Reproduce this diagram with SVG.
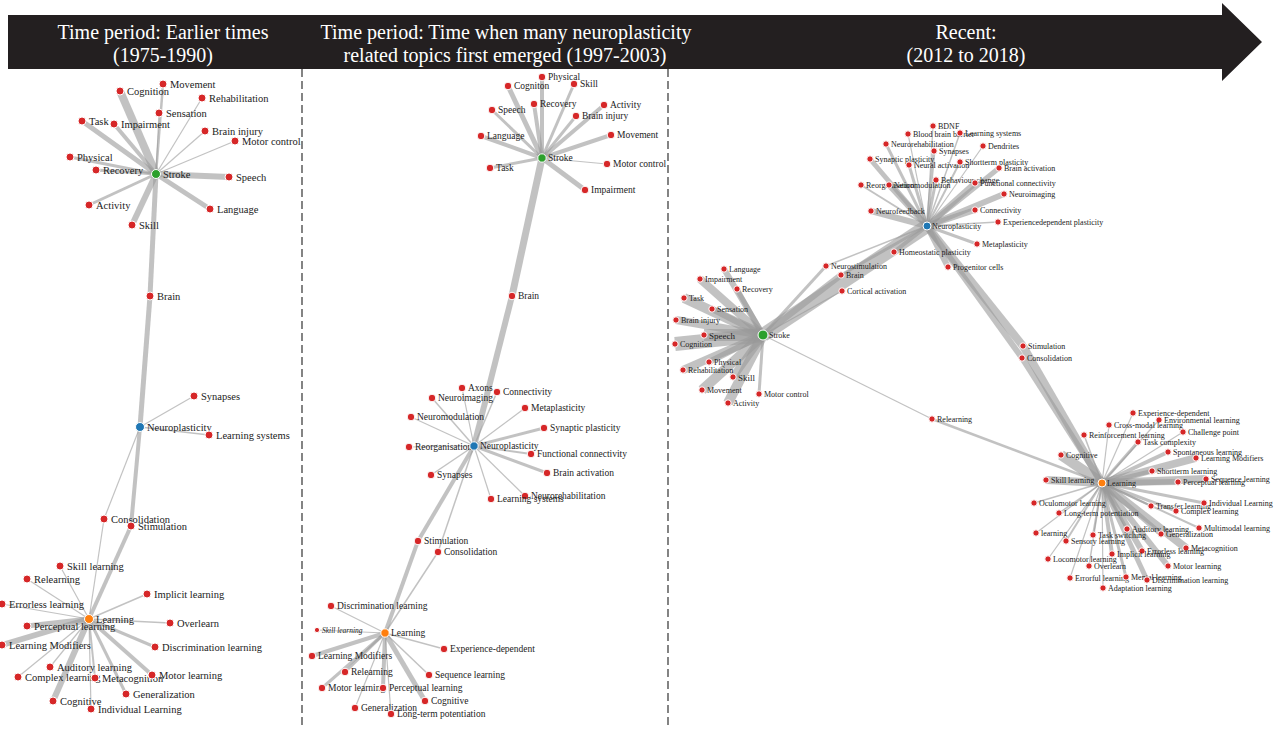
<svg xmlns="http://www.w3.org/2000/svg" width="1276" height="729" viewBox="0 0 1276 729">
<style>
.e line{stroke:#999;stroke-opacity:.6;fill:none}
circle{stroke:#fff;stroke-width:1}
.r{fill:#d62728}.gr{fill:#2ca02c}.b{fill:#1f77b4}.o{fill:#ff7f0e}
text{font-family:"Liberation Serif","Times New Roman",serif;fill:#222}
.p1 text{font-size:10.5px}.p2 text{font-size:9.5px}.p3 text{font-size:8px}
.hdr{font-size:20px;fill:#fff;text-anchor:middle}
.sep{stroke:#333;stroke-width:1.2;stroke-dasharray:8 4}
</style>
<rect width="1276" height="729" fill="#fff"/>
<g id="header">
<path d="M8 15 H1222 V3 L1262 42 L1222 81 V69 H8 Z" fill="#231f20"/>
<text class="hdr" x="163" y="39">Time period: Earlier times</text>
<text class="hdr" x="163" y="62">(1975-1990)</text>
<text class="hdr" x="506" y="39">Time period: Time when many neuroplasticity</text>
<text class="hdr" x="505" y="62">related topics first emerged (1997-2003)</text>
<text class="hdr" x="966" y="39">Recent:</text>
<text class="hdr" x="966" y="62">(2012 to 2018)</text>
</g>
<g id="separators">
<line class="sep" x1="302" y1="69" x2="302" y2="729"/>
<line class="sep" x1="668" y1="69" x2="668" y2="729"/>
</g>
<g id="connectors" class="e">
<!-- panel 1 -->
<line x1="156" y1="174" x2="163" y2="84" stroke-width="2.5"/>
<line x1="156" y1="174" x2="120" y2="91" stroke-width="8"/>
<line x1="156" y1="174" x2="202" y2="98" stroke-width="1.2"/>
<line x1="156" y1="174" x2="159" y2="113" stroke-width="1.2"/>
<line x1="156" y1="174" x2="82" y2="121" stroke-width="5"/>
<line x1="156" y1="174" x2="114" y2="124" stroke-width="4"/>
<line x1="156" y1="174" x2="205" y2="131" stroke-width="1.2"/>
<line x1="156" y1="174" x2="235" y2="141" stroke-width="1.2"/>
<line x1="156" y1="174" x2="70" y2="157" stroke-width="3"/>
<line x1="156" y1="174" x2="96" y2="170" stroke-width="3"/>
<line x1="156" y1="174" x2="229" y2="177" stroke-width="6"/>
<line x1="156" y1="174" x2="89" y2="205" stroke-width="3"/>
<line x1="156" y1="174" x2="210" y2="209" stroke-width="5"/>
<line x1="156" y1="174" x2="132" y2="225" stroke-width="6"/>
<line x1="156" y1="174" x2="150" y2="296" stroke-width="5"/>
<line x1="150" y1="296" x2="140" y2="427" stroke-width="5"/>
<line x1="140" y1="427" x2="194" y2="396" stroke-width="1.2"/>
<line x1="140" y1="427" x2="209" y2="435" stroke-width="1.5"/>
<line x1="140" y1="427" x2="104" y2="519" stroke-width="1.2"/>
<line x1="140" y1="427" x2="131" y2="526" stroke-width="4"/>
<line x1="104" y1="519" x2="89" y2="619" stroke-width="1.2"/>
<line x1="131" y1="526" x2="89" y2="619" stroke-width="4"/>
<line x1="89" y1="619" x2="60" y2="566" stroke-width="1.2"/>
<line x1="89" y1="619" x2="27" y2="579" stroke-width="1.2"/>
<line x1="89" y1="619" x2="147" y2="594" stroke-width="1.5"/>
<line x1="89" y1="619" x2="2" y2="604" stroke-width="1.2"/>
<line x1="89" y1="619" x2="170" y2="623" stroke-width="1.5"/>
<line x1="89" y1="619" x2="27" y2="626" stroke-width="5"/>
<line x1="89" y1="619" x2="2" y2="645" stroke-width="6"/>
<line x1="89" y1="619" x2="155" y2="647" stroke-width="3"/>
<line x1="89" y1="619" x2="50" y2="667" stroke-width="1.2"/>
<line x1="89" y1="619" x2="18" y2="677" stroke-width="1.2"/>
<line x1="89" y1="619" x2="95" y2="678" stroke-width="2"/>
<line x1="89" y1="619" x2="152" y2="675" stroke-width="4"/>
<line x1="89" y1="619" x2="126" y2="694" stroke-width="3"/>
<line x1="89" y1="619" x2="53" y2="701" stroke-width="6"/>
<line x1="89" y1="619" x2="91" y2="709" stroke-width="1.2"/>
<!-- panel 2 -->
<line x1="542" y1="158" x2="542" y2="77" stroke-width="4"/>
<line x1="542" y1="158" x2="508" y2="86" stroke-width="5"/>
<line x1="542" y1="158" x2="574" y2="84" stroke-width="3"/>
<line x1="542" y1="158" x2="534" y2="104" stroke-width="4"/>
<line x1="542" y1="158" x2="492" y2="110" stroke-width="3"/>
<line x1="542" y1="158" x2="604" y2="105" stroke-width="4"/>
<line x1="542" y1="158" x2="576" y2="116" stroke-width="3"/>
<line x1="542" y1="158" x2="481" y2="136" stroke-width="4"/>
<line x1="542" y1="158" x2="611" y2="135" stroke-width="4"/>
<line x1="542" y1="158" x2="490" y2="168" stroke-width="3"/>
<line x1="542" y1="158" x2="607" y2="164" stroke-width="1.2"/>
<line x1="542" y1="158" x2="585" y2="190" stroke-width="5"/>
<line x1="542" y1="158" x2="512" y2="296" stroke-width="7"/>
<line x1="512" y1="296" x2="474" y2="446" stroke-width="6"/>
<line x1="474" y1="446" x2="462" y2="388" stroke-width="1.2"/>
<line x1="474" y1="446" x2="497" y2="392" stroke-width="1.5"/>
<line x1="474" y1="446" x2="432" y2="398" stroke-width="1.5"/>
<line x1="474" y1="446" x2="525" y2="408" stroke-width="1.2"/>
<line x1="474" y1="446" x2="411" y2="417" stroke-width="1.2"/>
<line x1="474" y1="446" x2="544" y2="428" stroke-width="3"/>
<line x1="474" y1="446" x2="409" y2="447" stroke-width="1.2"/>
<line x1="474" y1="446" x2="531" y2="454" stroke-width="2"/>
<line x1="474" y1="446" x2="547" y2="473" stroke-width="3"/>
<line x1="474" y1="446" x2="431" y2="475" stroke-width="1.5"/>
<line x1="474" y1="446" x2="525" y2="496" stroke-width="1.2"/>
<line x1="474" y1="446" x2="491" y2="499" stroke-width="1.2"/>
<line x1="474" y1="446" x2="418" y2="541" stroke-width="4"/>
<line x1="474" y1="446" x2="438" y2="552" stroke-width="1.5"/>
<line x1="418" y1="541" x2="385" y2="633" stroke-width="4"/>
<line x1="438" y1="552" x2="385" y2="633" stroke-width="1.5"/>
<line x1="385" y1="633" x2="331" y2="606" stroke-width="1.2"/>
<line x1="385" y1="633" x2="317" y2="630" stroke-width="1.2"/>
<line x1="385" y1="633" x2="444" y2="649" stroke-width="1.5"/>
<line x1="385" y1="633" x2="312" y2="656" stroke-width="4"/>
<line x1="385" y1="633" x2="345" y2="672" stroke-width="3"/>
<line x1="385" y1="633" x2="429" y2="675" stroke-width="1.5"/>
<line x1="385" y1="633" x2="322" y2="688" stroke-width="3"/>
<line x1="385" y1="633" x2="383" y2="688" stroke-width="4"/>
<line x1="385" y1="633" x2="425" y2="701" stroke-width="5"/>
<line x1="385" y1="633" x2="355" y2="708" stroke-width="1.2"/>
<line x1="385" y1="633" x2="391" y2="714" stroke-width="1.2"/>
<!-- panel 3: stroke -->
<line x1="763" y1="335" x2="724" y2="269" stroke-width="6"/>
<line x1="763" y1="335" x2="700" y2="279" stroke-width="8"/>
<line x1="763" y1="335" x2="737" y2="289" stroke-width="5"/>
<line x1="763" y1="335" x2="684" y2="298" stroke-width="10"/>
<line x1="763" y1="335" x2="712" y2="309" stroke-width="6"/>
<line x1="763" y1="335" x2="676" y2="320" stroke-width="8"/>
<line x1="763" y1="335" x2="704" y2="335" stroke-width="12"/>
<line x1="763" y1="335" x2="675" y2="344" stroke-width="14"/>
<line x1="763" y1="335" x2="709" y2="362" stroke-width="6"/>
<line x1="763" y1="335" x2="683" y2="370" stroke-width="8"/>
<line x1="763" y1="335" x2="733" y2="377" stroke-width="8"/>
<line x1="763" y1="335" x2="702" y2="390" stroke-width="10"/>
<line x1="763" y1="335" x2="759" y2="394" stroke-width="3"/>
<line x1="763" y1="335" x2="728" y2="403" stroke-width="10"/>
<line x1="763" y1="335" x2="927" y2="226" stroke-width="14"/>
<line x1="763" y1="335" x2="826" y2="266" stroke-width="3"/>
<line x1="763" y1="335" x2="841" y2="275" stroke-width="6"/>
<line x1="763" y1="335" x2="842" y2="291" stroke-width="1.2"/>
<line x1="826" y1="266" x2="927" y2="226" stroke-width="1.5"/>
<line x1="841" y1="275" x2="927" y2="226" stroke-width="3"/>
<line x1="763" y1="335" x2="932" y2="419" stroke-width="1.2"/>
<line x1="932" y1="419" x2="1102" y2="483" stroke-width="2.5"/>
<!-- panel 3: neuroplasticity -->
<line x1="927" y1="226" x2="1023" y2="346" stroke-width="8"/>
<line x1="1023" y1="346" x2="1102" y2="483" stroke-width="8"/>
<line x1="927" y1="226" x2="1022" y2="358" stroke-width="6"/>
<line x1="1022" y1="358" x2="1102" y2="483" stroke-width="6"/>
<line x1="927" y1="226" x2="933" y2="126" stroke-width="1.2"/>
<line x1="927" y1="226" x2="908" y2="134" stroke-width="1.2"/>
<line x1="927" y1="226" x2="960" y2="133" stroke-width="1.5"/>
<line x1="927" y1="226" x2="886" y2="144" stroke-width="3"/>
<line x1="927" y1="226" x2="983" y2="146" stroke-width="1.2"/>
<line x1="927" y1="226" x2="934" y2="151" stroke-width="3"/>
<line x1="927" y1="226" x2="870" y2="159" stroke-width="5"/>
<line x1="927" y1="226" x2="909" y2="165" stroke-width="3"/>
<line x1="927" y1="226" x2="960" y2="162" stroke-width="2"/>
<line x1="927" y1="226" x2="999" y2="168" stroke-width="5"/>
<line x1="927" y1="226" x2="936" y2="180" stroke-width="3"/>
<line x1="927" y1="226" x2="975" y2="183" stroke-width="6"/>
<line x1="927" y1="226" x2="861" y2="185" stroke-width="2"/>
<line x1="927" y1="226" x2="889" y2="185" stroke-width="6"/>
<line x1="927" y1="226" x2="1004" y2="194" stroke-width="6"/>
<line x1="927" y1="226" x2="975" y2="210" stroke-width="6"/>
<line x1="927" y1="226" x2="871" y2="211" stroke-width="6"/>
<line x1="927" y1="226" x2="998" y2="222" stroke-width="1.5"/>
<line x1="927" y1="226" x2="977" y2="244" stroke-width="3"/>
<line x1="927" y1="226" x2="894" y2="252" stroke-width="4"/>
<line x1="927" y1="226" x2="948" y2="267" stroke-width="6"/>
<!-- panel 3: learning -->
<line x1="1102" y1="483" x2="1133" y2="413" stroke-width="1.2"/>
<line x1="1102" y1="483" x2="1159" y2="420" stroke-width="1.2"/>
<line x1="1102" y1="483" x2="1109" y2="425" stroke-width="1.2"/>
<line x1="1102" y1="483" x2="1183" y2="432" stroke-width="1.2"/>
<line x1="1102" y1="483" x2="1084" y2="435" stroke-width="1.5"/>
<line x1="1102" y1="483" x2="1138" y2="442" stroke-width="3"/>
<line x1="1102" y1="483" x2="1168" y2="452" stroke-width="4"/>
<line x1="1102" y1="483" x2="1061" y2="455" stroke-width="10"/>
<line x1="1102" y1="483" x2="1196" y2="458" stroke-width="8"/>
<line x1="1102" y1="483" x2="1152" y2="471" stroke-width="4"/>
<line x1="1102" y1="483" x2="1206" y2="479" stroke-width="8"/>
<line x1="1102" y1="483" x2="1046" y2="480" stroke-width="8"/>
<line x1="1102" y1="483" x2="1178" y2="482" stroke-width="6"/>
<line x1="1102" y1="483" x2="1034" y2="503" stroke-width="1.5"/>
<line x1="1102" y1="483" x2="1151" y2="506" stroke-width="2"/>
<line x1="1102" y1="483" x2="1204" y2="503" stroke-width="3"/>
<line x1="1102" y1="483" x2="1176" y2="511" stroke-width="3"/>
<line x1="1102" y1="483" x2="1059" y2="513" stroke-width="1.5"/>
<line x1="1102" y1="483" x2="1199" y2="528" stroke-width="2"/>
<line x1="1102" y1="483" x2="1127" y2="529" stroke-width="3"/>
<line x1="1102" y1="483" x2="1036" y2="533" stroke-width="1.2"/>
<line x1="1102" y1="483" x2="1093" y2="535" stroke-width="2"/>
<line x1="1102" y1="483" x2="1161" y2="534" stroke-width="5"/>
<line x1="1102" y1="483" x2="1066" y2="541" stroke-width="2"/>
<line x1="1102" y1="483" x2="1186" y2="548" stroke-width="8"/>
<line x1="1102" y1="483" x2="1142" y2="551" stroke-width="6"/>
<line x1="1102" y1="483" x2="1112" y2="554" stroke-width="4"/>
<line x1="1102" y1="483" x2="1048" y2="559" stroke-width="1.2"/>
<line x1="1102" y1="483" x2="1089" y2="566" stroke-width="1.5"/>
<line x1="1102" y1="483" x2="1168" y2="566" stroke-width="6"/>
<line x1="1102" y1="483" x2="1070" y2="578" stroke-width="1.2"/>
<line x1="1102" y1="483" x2="1126" y2="577" stroke-width="3"/>
<line x1="1102" y1="483" x2="1147" y2="580" stroke-width="5"/>
<line x1="1102" y1="483" x2="1103" y2="588" stroke-width="1.2"/>
</g>
<g id="panel1" class="p1">
<g id="p1-movement"><circle class="r" cx="163" cy="84" r="4"/><text x="170" y="87.5">Movement</text></g>
<g id="p1-cognition"><circle class="r" cx="120" cy="91" r="4"/><text x="127" y="94.5">Cognition</text></g>
<g id="p1-rehabilitation"><circle class="r" cx="202" cy="98" r="4"/><text x="209" y="101.5">Rehabilitation</text></g>
<g id="p1-sensation"><circle class="r" cx="159" cy="113" r="4"/><text x="166" y="116.5">Sensation</text></g>
<g id="p1-task"><circle class="r" cx="82" cy="121" r="4"/><text x="89" y="124.5">Task</text></g>
<g id="p1-impairment"><circle class="r" cx="114" cy="124" r="4"/><text x="121" y="127.5">Impairment</text></g>
<g id="p1-braininjury"><circle class="r" cx="205" cy="131" r="4"/><text x="212" y="134.5">Brain injury</text></g>
<g id="p1-motorcontrol"><circle class="r" cx="235" cy="141" r="4"/><text x="242" y="144.5">Motor control</text></g>
<g id="p1-physical"><circle class="r" cx="70" cy="157" r="4"/><text x="77" y="160.5">Physical</text></g>
<g id="p1-recovery"><circle class="r" cx="96" cy="170" r="4"/><text x="103" y="173.5">Recovery</text></g>
<g id="p1-stroke"><circle class="gr" cx="156" cy="174" r="4.5"/><text x="163" y="177.5">Stroke</text></g>
<g id="p1-speech"><circle class="r" cx="229" cy="177" r="4"/><text x="236" y="180.5">Speech</text></g>
<g id="p1-activity"><circle class="r" cx="89" cy="205" r="4"/><text x="96" y="208.5">Activity</text></g>
<g id="p1-language"><circle class="r" cx="210" cy="209" r="4"/><text x="217" y="212.5">Language</text></g>
<g id="p1-skill"><circle class="r" cx="132" cy="225" r="4"/><text x="139" y="228.5">Skill</text></g>
<g id="p1-brain"><circle class="r" cx="150" cy="296" r="4"/><text x="157" y="299.5">Brain</text></g>
<g id="p1-synapses"><circle class="r" cx="194" cy="396" r="4"/><text x="201" y="399.5">Synapses</text></g>
<g id="p1-neuroplasticity"><circle class="b" cx="140" cy="427" r="4.5"/><text x="147" y="430.5">Neuroplasticity</text></g>
<g id="p1-learningsystems"><circle class="r" cx="209" cy="435" r="4"/><text x="216" y="438.5">Learning systems</text></g>
<g id="p1-consolidation"><circle class="r" cx="104" cy="519" r="4"/><text x="111" y="522.5">Consolidation</text></g>
<g id="p1-stimulation"><circle class="r" cx="131" cy="526" r="4"/><text x="138" y="529.5">Stimulation</text></g>
<g id="p1-skilllearning"><circle class="r" cx="60" cy="566" r="4"/><text x="67" y="569.5">Skill learning</text></g>
<g id="p1-relearning"><circle class="r" cx="27" cy="579" r="4"/><text x="34" y="582.5">Relearning</text></g>
<g id="p1-implicit"><circle class="r" cx="147" cy="594" r="4"/><text x="154" y="597.5">Implicit learning</text></g>
<g id="p1-errorless"><circle class="r" cx="2" cy="604" r="4"/><text x="9" y="607.5">Errorless learning</text></g>
<g id="p1-learning"><circle class="o" cx="89" cy="619" r="4.5"/><text x="96" y="622.5">Learning</text></g>
<g id="p1-overlearn"><circle class="r" cx="170" cy="623" r="4"/><text x="177" y="626.5">Overlearn</text></g>
<g id="p1-perceptual"><circle class="r" cx="27" cy="626" r="4"/><text x="34" y="629.5">Perceptual learning</text></g>
<g id="p1-modifiers"><circle class="r" cx="2" cy="645" r="4"/><text x="9" y="648.5">Learning Modifiers</text></g>
<g id="p1-discrimination"><circle class="r" cx="155" cy="647" r="4"/><text x="162" y="650.5">Discrimination learning</text></g>
<g id="p1-auditory"><circle class="r" cx="50" cy="667" r="4"/><text x="57" y="670.5">Auditory learning</text></g>
<g id="p1-complex"><circle class="r" cx="18" cy="677" r="4"/><text x="25" y="680.5">Complex learning</text></g>
<g id="p1-metacognition"><circle class="r" cx="95" cy="678" r="4"/><text x="102" y="681.5">Metacognition</text></g>
<g id="p1-motorlearning"><circle class="r" cx="152" cy="675" r="4"/><text x="159" y="678.5">Motor learning</text></g>
<g id="p1-generalization"><circle class="r" cx="126" cy="694" r="4"/><text x="133" y="697.5">Generalization</text></g>
<g id="p1-cognitive"><circle class="r" cx="53" cy="701" r="4"/><text x="60" y="704.5">Cognitive</text></g>
<g id="p1-individual"><circle class="r" cx="91" cy="709" r="4"/><text x="98" y="712.5">Individual Learning</text></g>
</g>
<g id="panel2" class="p2">
<g id="p2-physical"><circle class="r" cx="542" cy="77" r="3.8"/><text x="548" y="80">Physical</text></g>
<g id="p2-cognition"><circle class="r" cx="508" cy="86" r="3.8"/><text x="514" y="89">Cogniton</text></g>
<g id="p2-skill"><circle class="r" cx="574" cy="84" r="3.8"/><text x="580" y="87">Skill</text></g>
<g id="p2-recovery"><circle class="r" cx="534" cy="104" r="3.8"/><text x="540" y="107">Recovery</text></g>
<g id="p2-speech"><circle class="r" cx="492" cy="110" r="3.8"/><text x="498" y="113">Speech</text></g>
<g id="p2-activity"><circle class="r" cx="604" cy="105" r="3.8"/><text x="610" y="108">Activity</text></g>
<g id="p2-braininjury"><circle class="r" cx="576" cy="116" r="3.8"/><text x="582" y="119">Brain injury</text></g>
<g id="p2-language"><circle class="r" cx="481" cy="136" r="3.8"/><text x="487" y="139">Language</text></g>
<g id="p2-movement"><circle class="r" cx="611" cy="135" r="3.8"/><text x="617" y="138">Movement</text></g>
<g id="p2-stroke"><circle class="gr" cx="542" cy="158" r="4.2"/><text x="548" y="161">Stroke</text></g>
<g id="p2-task"><circle class="r" cx="490" cy="168" r="3.8"/><text x="496" y="171">Task</text></g>
<g id="p2-motorcontrol"><circle class="r" cx="607" cy="164" r="3.8"/><text x="613" y="167">Motor control</text></g>
<g id="p2-impairment"><circle class="r" cx="585" cy="190" r="3.8"/><text x="591" y="193">Impairment</text></g>
<g id="p2-brain"><circle class="r" cx="512" cy="296" r="3.8"/><text x="518" y="299">Brain</text></g>
<g id="p2-axons"><circle class="r" cx="462" cy="388" r="3.8"/><text x="468" y="391">Axons</text></g>
<g id="p2-connectivity"><circle class="r" cx="497" cy="392" r="3.8"/><text x="503" y="395">Connectivity</text></g>
<g id="p2-neuroimaging"><circle class="r" cx="432" cy="398" r="3.8"/><text x="438" y="401">Neuroimaging</text></g>
<g id="p2-metaplasticity"><circle class="r" cx="525" cy="408" r="3.8"/><text x="531" y="411">Metaplasticity</text></g>
<g id="p2-neuromodulation"><circle class="r" cx="411" cy="417" r="3.8"/><text x="417" y="420">Neuromodulation</text></g>
<g id="p2-synapticplasticity"><circle class="r" cx="544" cy="428" r="3.8"/><text x="550" y="431">Synaptic plasticity</text></g>
<g id="p2-reorganisation"><circle class="r" cx="409" cy="447" r="3.8"/><text x="415" y="450">Reorganisation</text></g>
<g id="p2-neuroplasticity"><circle class="b" cx="474" cy="446" r="4.2"/><text x="480" y="449">Neuroplasticity</text></g>
<g id="p2-functional"><circle class="r" cx="531" cy="454" r="3.8"/><text x="537" y="457">Functional connectivity</text></g>
<g id="p2-brainactivation"><circle class="r" cx="547" cy="473" r="3.8"/><text x="553" y="476">Brain activation</text></g>
<g id="p2-synapses"><circle class="r" cx="431" cy="475" r="3.8"/><text x="437" y="478">Synapses</text></g>
<g id="p2-neurorehab"><circle class="r" cx="525" cy="496" r="3.8"/><text x="531" y="499">Neurorehabilitation</text></g>
<g id="p2-learningsystems"><circle class="r" cx="491" cy="499" r="3.8"/><text x="497" y="502">Learning systems</text></g>
<g id="p2-stimulation"><circle class="r" cx="418" cy="541" r="3.8"/><text x="424" y="544">Stimulation</text></g>
<g id="p2-consolidation"><circle class="r" cx="438" cy="552" r="3.8"/><text x="444" y="555">Consolidation</text></g>
<g id="p2-discrimination"><circle class="r" cx="331" cy="606" r="3.8"/><text x="337" y="609">Discrimination learning</text></g>
<g id="p2-skilllearning"><circle class="r" cx="317" cy="630" r="2.6"/><text x="322" y="632.5" style="font-size:7.5px;font-style:italic">Skill learning</text></g>
<g id="p2-learning"><circle class="o" cx="385" cy="633" r="4.2"/><text x="391" y="636">Learning</text></g>
<g id="p2-experience"><circle class="r" cx="444" cy="649" r="3.8"/><text x="450" y="652">Experience-dependent</text></g>
<g id="p2-modifiers"><circle class="r" cx="312" cy="656" r="3.8"/><text x="318" y="659">Learning Modifiers</text></g>
<g id="p2-relearning"><circle class="r" cx="345" cy="672" r="3.8"/><text x="351" y="675">Relearning</text></g>
<g id="p2-sequence"><circle class="r" cx="429" cy="675" r="3.8"/><text x="435" y="678">Sequence learning</text></g>
<g id="p2-motorlearning"><circle class="r" cx="322" cy="688" r="3.8"/><text x="328" y="691">Motor learning</text></g>
<g id="p2-perceptual"><circle class="r" cx="383" cy="688" r="3.8"/><text x="389" y="691">Perceptual learning</text></g>
<g id="p2-cognitive"><circle class="r" cx="425" cy="701" r="3.8"/><text x="431" y="704">Cognitive</text></g>
<g id="p2-generalization"><circle class="r" cx="355" cy="708" r="3.8"/><text x="361" y="711">Generalization</text></g>
<g id="p2-ltp"><circle class="r" cx="391" cy="714" r="3.8"/><text x="397" y="717">Long-term potentiation</text></g>
</g>
<g id="panel3" class="p3">
<g id="p3-bdnf"><circle class="r" cx="933" cy="126" r="3.2"/><text x="938" y="129">BDNF</text></g>
<g id="p3-bloodbrain"><circle class="r" cx="908" cy="134" r="3.2"/><text x="913" y="137">Blood brain barrier</text></g>
<g id="p3-learningsystems"><circle class="r" cx="960" cy="133" r="3.2"/><text x="965" y="136">Learning systems</text></g>
<g id="p3-neurorehab"><circle class="r" cx="886" cy="144" r="3.2"/><text x="891" y="147">Neurorehabilitation</text></g>
<g id="p3-dendrites"><circle class="r" cx="983" cy="146" r="3.2"/><text x="988" y="149">Dendrites</text></g>
<g id="p3-synapses"><circle class="r" cx="934" cy="151" r="3.2"/><text x="939" y="154">Synapses</text></g>
<g id="p3-synapticplasticity"><circle class="r" cx="870" cy="159" r="3.2"/><text x="875" y="162">Synaptic plasticity</text></g>
<g id="p3-neuralactivation"><circle class="r" cx="909" cy="165" r="3.2"/><text x="914" y="168">Neural activation</text></g>
<g id="p3-shortterm"><circle class="r" cx="960" cy="162" r="3.2"/><text x="965" y="165">Shortterm plasticity</text></g>
<g id="p3-brainactivation"><circle class="r" cx="999" cy="168" r="3.2"/><text x="1004" y="171">Brain activation</text></g>
<g id="p3-behaviour"><circle class="r" cx="936" cy="180" r="3.2"/><text x="941" y="183">Behaviour change</text></g>
<g id="p3-functional"><circle class="r" cx="975" cy="183" r="3.2"/><text x="980" y="186">Functional connectivity</text></g>
<g id="p3-reorganisation"><circle class="r" cx="861" cy="185" r="3.2"/><text x="866" y="188">Reorganisation</text></g>
<g id="p3-neuromodulation"><circle class="r" cx="889" cy="185" r="3.2"/><text x="894" y="188">Neuromodulation</text></g>
<g id="p3-neuroimaging"><circle class="r" cx="1004" cy="194" r="3.2"/><text x="1009" y="197">Neuroimaging</text></g>
<g id="p3-connectivity"><circle class="r" cx="975" cy="210" r="3.2"/><text x="980" y="213">Connectivity</text></g>
<g id="p3-neurofeedback"><circle class="r" cx="871" cy="211" r="3.2"/><text x="876" y="214">Neurofeedback</text></g>
<g id="p3-neuroplasticity"><circle class="b" cx="927" cy="226" r="4"/><text x="932" y="229">Neuroplasticity</text></g>
<g id="p3-experiencedependent"><circle class="r" cx="998" cy="222" r="3.2"/><text x="1003" y="225">Experiencedependent plasticity</text></g>
<g id="p3-metaplasticity"><circle class="r" cx="977" cy="244" r="3.2"/><text x="982" y="247">Metaplasticity</text></g>
<g id="p3-homeostatic"><circle class="r" cx="894" cy="252" r="3.2"/><text x="899" y="255">Homeostatic plasticity</text></g>
<g id="p3-progenitor"><circle class="r" cx="948" cy="267" r="3.2"/><text x="953" y="270">Progenitor cells</text></g>
<g id="p3-neurostimulation"><circle class="r" cx="826" cy="266" r="3.2"/><text x="831" y="269">Neurostimulation</text></g>
<g id="p3-brain"><circle class="r" cx="841" cy="275" r="3.2"/><text x="846" y="278">Brain</text></g>
<g id="p3-cortical"><circle class="r" cx="842" cy="291" r="3.2"/><text x="847" y="294">Cortical activation</text></g>
<g id="p3-language"><circle class="r" cx="724" cy="269" r="3.2"/><text x="729" y="272">Language</text></g>
<g id="p3-impairment"><circle class="r" cx="700" cy="279" r="3.2"/><text x="705" y="282">Impairment</text></g>
<g id="p3-recovery"><circle class="r" cx="737" cy="289" r="3.2"/><text x="742" y="292">Recovery</text></g>
<g id="p3-task"><circle class="r" cx="684" cy="298" r="3.2"/><text x="689" y="301">Task</text></g>
<g id="p3-sensation"><circle class="r" cx="712" cy="309" r="3.2"/><text x="717" y="312">Sensation</text></g>
<g id="p3-braininjury"><circle class="r" cx="676" cy="320" r="3.2"/><text x="681" y="323">Brain injury</text></g>
<g id="p3-stroke"><circle class="gr" cx="763" cy="335" r="5"/><text x="769" y="338">Stroke</text></g>
<g id="p3-speech"><circle class="r" cx="704" cy="335" r="3.2"/><text x="709" y="338.5" style="font-size:9px">Speech</text></g>
<g id="p3-cognition"><circle class="r" cx="675" cy="344" r="3.2"/><text x="680" y="347">Cognition</text></g>
<g id="p3-physical"><circle class="r" cx="709" cy="362" r="3.2"/><text x="714" y="365">Physical</text></g>
<g id="p3-rehabilitation"><circle class="r" cx="683" cy="370" r="3.2"/><text x="688" y="373">Rehabilitation</text></g>
<g id="p3-skill"><circle class="r" cx="733" cy="377" r="3.2"/><text x="738" y="380.5" style="font-size:9px">Skill</text></g>
<g id="p3-movement"><circle class="r" cx="702" cy="390" r="3.2"/><text x="707" y="393">Movement</text></g>
<g id="p3-motorcontrol"><circle class="r" cx="759" cy="394" r="3.2"/><text x="764" y="397">Motor control</text></g>
<g id="p3-activity"><circle class="r" cx="728" cy="403" r="3.2"/><text x="733" y="406">Activity</text></g>
<g id="p3-relearning"><circle class="r" cx="932" cy="419" r="3.2"/><text x="937" y="422">Relearning</text></g>
<g id="p3-stimulation"><circle class="r" cx="1023" cy="346" r="3.2"/><text x="1028" y="349">Stimulation</text></g>
<g id="p3-consolidation"><circle class="r" cx="1022" cy="358" r="3.2"/><text x="1027" y="361">Consolidation</text></g>
<g id="p3-experience"><circle class="r" cx="1133" cy="413" r="3.2"/><text x="1138" y="416">Experience-dependent</text></g>
<g id="p3-environmental"><circle class="r" cx="1159" cy="420" r="3.2"/><text x="1164" y="423">Environmental learning</text></g>
<g id="p3-crossmodal"><circle class="r" cx="1109" cy="425" r="3.2"/><text x="1114" y="428">Cross-modal learning</text></g>
<g id="p3-challenge"><circle class="r" cx="1183" cy="432" r="3.2"/><text x="1188" y="435">Challenge point</text></g>
<g id="p3-reinforcement"><circle class="r" cx="1084" cy="435" r="3.2"/><text x="1089" y="438">Reinforcement learning</text></g>
<g id="p3-taskcomplexity"><circle class="r" cx="1138" cy="442" r="3.2"/><text x="1143" y="445">Task complexity</text></g>
<g id="p3-spontaneous"><circle class="r" cx="1168" cy="452" r="3.2"/><text x="1173" y="455">Spontaneous learning</text></g>
<g id="p3-cognitive"><circle class="r" cx="1061" cy="455" r="3.2"/><text x="1066" y="458">Cognitive</text></g>
<g id="p3-modifiers"><circle class="r" cx="1196" cy="458" r="3.2"/><text x="1201" y="461">Learning Modifiers</text></g>
<g id="p3-shorttermlearning"><circle class="r" cx="1152" cy="471" r="3.2"/><text x="1157" y="474">Shortterm learning</text></g>
<g id="p3-sequence"><circle class="r" cx="1206" cy="479" r="3.2"/><text x="1211" y="482">Sequence learning</text></g>
<g id="p3-skilllearning"><circle class="r" cx="1046" cy="480" r="3.2"/><text x="1051" y="483">Skill learning</text></g>
<g id="p3-perceptual"><circle class="r" cx="1178" cy="482" r="3.2"/><text x="1183" y="485">Perceptual learning</text></g>
<g id="p3-learning"><circle class="o" cx="1102" cy="483" r="4"/><text x="1107" y="486">Learning</text></g>
<g id="p3-oculomotor"><circle class="r" cx="1034" cy="503" r="3.2"/><text x="1039" y="506">Oculomotor learning</text></g>
<g id="p3-transfer"><circle class="r" cx="1151" cy="506" r="3.2"/><text x="1156" y="509">Transfer learning</text></g>
<g id="p3-individual"><circle class="r" cx="1204" cy="503" r="3.2"/><text x="1209" y="506">Individual Learning</text></g>
<g id="p3-complex"><circle class="r" cx="1176" cy="511" r="3.2"/><text x="1181" y="514">Complex learning</text></g>
<g id="p3-ltp"><circle class="r" cx="1059" cy="513" r="3.2"/><text x="1064" y="516">Long-term potentiation</text></g>
<g id="p3-multimodal"><circle class="r" cx="1199" cy="528" r="3.2"/><text x="1204" y="531">Multimodal learning</text></g>
<g id="p3-auditory"><circle class="r" cx="1127" cy="529" r="3.2"/><text x="1132" y="532">Auditory learning</text></g>
<g id="p3-learning2"><circle class="r" cx="1036" cy="533" r="3.2"/><text x="1041" y="536">learning</text></g>
<g id="p3-taskswitching"><circle class="r" cx="1093" cy="535" r="3.2"/><text x="1098" y="538">Task switching</text></g>
<g id="p3-generalization"><circle class="r" cx="1161" cy="534" r="3.2"/><text x="1166" y="537">Generalization</text></g>
<g id="p3-sensory"><circle class="r" cx="1066" cy="541" r="3.2"/><text x="1071" y="544">Sensory learning</text></g>
<g id="p3-metacognition"><circle class="r" cx="1186" cy="548" r="3.2"/><text x="1191" y="551">Metacognition</text></g>
<g id="p3-errorless"><circle class="r" cx="1142" cy="551" r="3.2"/><text x="1147" y="554">Errorless learning</text></g>
<g id="p3-implicit"><circle class="r" cx="1112" cy="554" r="3.2"/><text x="1117" y="557">Implicit learning</text></g>
<g id="p3-locomotor"><circle class="r" cx="1048" cy="559" r="3.2"/><text x="1053" y="562">Locomotor learning</text></g>
<g id="p3-overlearn"><circle class="r" cx="1089" cy="566" r="3.2"/><text x="1094" y="569">Overlearn</text></g>
<g id="p3-motorlearning"><circle class="r" cx="1168" cy="566" r="3.2"/><text x="1173" y="569">Motor learning</text></g>
<g id="p3-errorful"><circle class="r" cx="1070" cy="578" r="3.2"/><text x="1075" y="581">Errorful learning</text></g>
<g id="p3-mental"><circle class="r" cx="1126" cy="577" r="3.2"/><text x="1131" y="580">Mental learning</text></g>
<g id="p3-discrimination"><circle class="r" cx="1147" cy="580" r="3.2"/><text x="1152" y="583">Discrimination learning</text></g>
<g id="p3-adaptation"><circle class="r" cx="1103" cy="588" r="3.2"/><text x="1108" y="591">Adaptation learning</text></g>
</g>
</svg>
